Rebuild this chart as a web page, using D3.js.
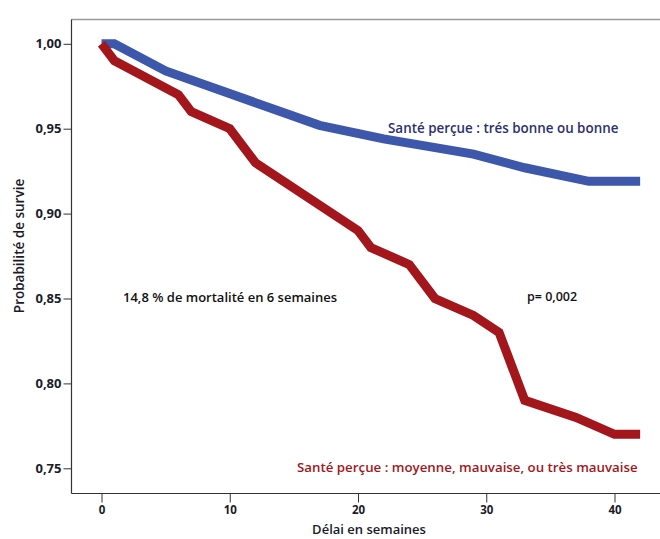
<!DOCTYPE html>
<html><head><meta charset="utf-8">
<script src="https://cdn.jsdelivr.net/npm/d3@7"></script>
<style>body{margin:0;background:#fff}svg{display:block}text{font-family:"Open Sans",sans-serif}</style>
</head><body><svg id="c" width="660" height="539"></svg>
<script>
const weeksGood = [0, 1, 5, 17, 22, 29, 33, 38, 42];
const survGood  = [1.0, 1.0, 0.984, 0.952, 0.944, 0.935, 0.927, 0.919, 0.919];
const weeksPoor = [0, 1, 6, 7, 10, 12, 20, 21, 24, 26, 29, 31, 33, 37, 40, 42];
const survPoor  = [1.0, 0.99, 0.97, 0.96, 0.95, 0.93, 0.89, 0.88, 0.87, 0.85, 0.84, 0.83, 0.79, 0.78, 0.77, 0.77];
const xTicks = [0, 10, 20, 30, 40];
const yTicks = [0.75, 0.80, 0.85, 0.90, 0.95, 1.00];
const labelGood = "Santé perçue : trés bonne ou bonne";
const labelPoor = "Santé perçue : moyenne, mauvaise, ou très mauvaise";
const noteMort = "14,8 % de mortalité en 6 semaines";
const noteP = "p= 0,002";
const xTitle = "Délai en semaines";
const yTitle = "Probabilité de survie";

(function () {
const svg = d3.select("#c");
const x = d3.scaleLinear().domain([0, 40]).range([101.5, 614.5]);
const y = d3.scaleLinear().domain([0.75, 1.0]).range([468.3, 43.8]);
const pLeft = 71.5, pTop = 19.5, pBottom = 493.5, pRight = 660;

svg.append("line").attr("x1", pLeft).attr("x2", pRight).attr("y1", pTop).attr("y2", pTop)
  .attr("stroke", "#9a9a9a").attr("stroke-width", 1.5);

const yAx = svg.append("g").attr("transform", `translate(${pLeft},0)`)
  .call(d3.axisLeft(y).tickValues(yTicks).tickSize(8).tickPadding(2)
    .tickFormat(d => d3.format(".2f")(d).replace(".", ",")));
yAx.select(".domain").remove();
yAx.selectAll(".tick line").attr("stroke", "#333");
yAx.selectAll("text").attr("font-size", 13).attr("font-weight", 700).attr("fill", "#1b1b2a");
svg.append("line").attr("x1", pLeft).attr("x2", pLeft).attr("y1", pTop).attr("y2", pBottom)
  .attr("stroke", "#333").attr("stroke-width", 1.2);

const xAx = svg.append("g").attr("transform", `translate(0,${pBottom})`)
  .call(d3.axisBottom(x).tickValues(xTicks).tickSize(9).tickPadding(3));
xAx.select(".domain").remove();
xAx.selectAll(".tick line").attr("stroke", "#333");
xAx.selectAll("text").attr("font-size", 11.5).attr("font-weight", 700).attr("fill", "#1b1b2a");
svg.append("line").attr("x1", pLeft).attr("x2", pRight).attr("y1", pBottom).attr("y2", pBottom)
  .attr("stroke", "#333").attr("stroke-width", 1.2);

svg.append("text").attr("x", 369).attr("y", 534).attr("text-anchor", "middle")
  .attr("font-size", 13).attr("font-weight", 600).attr("fill", "#1b1b2a").text(xTitle);
svg.append("text").attr("transform", "translate(24,246) rotate(-90)").attr("text-anchor", "middle")
  .attr("font-size", 13.5).attr("font-weight", 600).attr("fill", "#1b1b2a").text(yTitle);

const line = d3.line().x(d => x(d[0])).y(d => y(d[1]));
svg.append("path").datum(weeksGood.map((w, i) => [w, survGood[i]]))
  .attr("d", line).attr("fill", "none").attr("stroke", "#3d57ab").attr("stroke-width", 9);
svg.append("path").datum(weeksPoor.map((w, i) => [w, survPoor[i]]))
  .attr("d", line).attr("fill", "none").attr("stroke", "#a3161b").attr("stroke-width", 9);

svg.append("text").attr("x", 388).attr("y", 133).attr("font-size", 13.4).attr("font-weight", 600)
  .attr("fill", "#2c3070").text(labelGood);
svg.append("text").attr("x", 297).attr("y", 472).attr("font-size", 13.3).attr("font-weight", 600)
  .attr("fill", "#a3161b").text(labelPoor);
svg.append("text").attr("x", 123).attr("y", 302).attr("font-size", 13).attr("font-weight", 600)
  .attr("fill", "#111").text(noteMort);
svg.append("text").attr("x", 527).attr("y", 301).attr("font-size", 12.5).attr("font-weight", 600)
  .attr("fill", "#111").text(noteP);
})();
</script></body></html>
